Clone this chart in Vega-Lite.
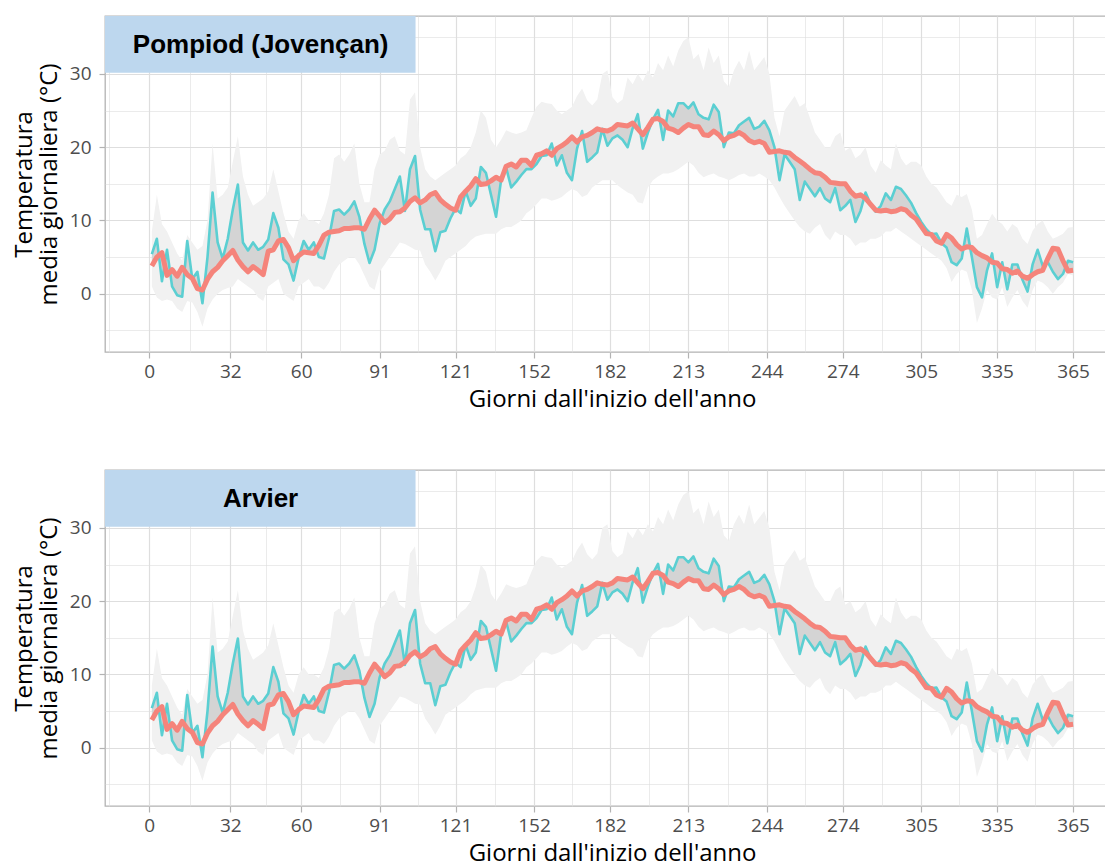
{
"$schema": "https://vega.github.io/schema/vega-lite/v6.json",
"background": "white",
"padding": {"left": 11, "top": 15, "right": 0, "bottom": 0},
"spacing": 57,
"config": {
  "font": "Open Sans",
  "view": {"stroke": "#b3b3b3", "strokeWidth": 1.3},
  "axis": {"domain": false, "grid": true, "gridColor": "#dedede", "tickColor": "#b3b3b3", "tickWidth": 1.2, "tickSize": 6, "labelFont": "Open Sans", "labelFontSize": 19, "labelColor": "#4d4d4d", "titleFont": "Open Sans", "titleFontSize": 24, "titleFontWeight": "normal", "titleColor": "#000000", "labelOverlap": false, "labelFlush": false},
  "axisX": {"labelPadding": 4, "titlePadding": 6},
  "axisY": {"labelPadding": 8, "titlePadding": 8, "titleLineHeight": 25}
},
"datasets": {
"serie": [
{"d":1,"lo":1.0,"hi":8.5,"c":5.4,"r":3.8},
{"d":3,"lo":-0.5,"hi":13.5,"c":7.5,"r":5.0},
{"d":5,"lo":-1.0,"hi":9.5,"c":1.7,"r":5.6},
{"d":7,"lo":-0.8,"hi":8.5,"c":6.0,"r":2.5},
{"d":9,"lo":-1.0,"hi":7.0,"c":1.0,"r":3.3},
{"d":11,"lo":-2.0,"hi":5.5,"c":-0.2,"r":2.4},
{"d":13,"lo":-2.5,"hi":4.5,"c":-0.4,"r":3.6},
{"d":15,"lo":-1.0,"hi":8.0,"c":7.2,"r":2.6},
{"d":17,"lo":-1.2,"hi":7.0,"c":2.0,"r":2.1},
{"d":19,"lo":-2.5,"hi":6.0,"c":3.0,"r":0.7},
{"d":21,"lo":-4.5,"hi":6.5,"c":-1.3,"r":0.5},
{"d":23,"lo":-2.0,"hi":10.0,"c":5.0,"r":2.0},
{"d":25,"lo":-0.8,"hi":20.5,"c":13.8,"r":3.0},
{"d":27,"lo":0.0,"hi":13.0,"c":7.0,"r":3.6},
{"d":29,"lo":0.5,"hi":13.5,"c":4.8,"r":4.5},
{"d":31,"lo":0.8,"hi":14.5,"c":7.5,"r":5.2},
{"d":33,"lo":1.0,"hi":18.0,"c":11.5,"r":5.9},
{"d":35,"lo":2.0,"hi":21.5,"c":14.9,"r":4.6},
{"d":37,"lo":1.5,"hi":16.0,"c":7.0,"r":3.7},
{"d":39,"lo":1.0,"hi":13.5,"c":5.9,"r":3.0},
{"d":41,"lo":0.5,"hi":12.0,"c":7.0,"r":3.7},
{"d":43,"lo":-0.5,"hi":12.5,"c":6.0,"r":3.2},
{"d":45,"lo":-1.0,"hi":13.0,"c":6.4,"r":2.6},
{"d":47,"lo":1.0,"hi":14.0,"c":7.4,"r":5.8},
{"d":49,"lo":1.5,"hi":17.0,"c":11.0,"r":6.0},
{"d":51,"lo":2.0,"hi":14.0,"c":9.0,"r":7.2},
{"d":53,"lo":0.0,"hi":11.0,"c":4.7,"r":7.4},
{"d":55,"lo":-0.5,"hi":8.5,"c":4.0,"r":6.3},
{"d":57,"lo":-1.0,"hi":7.5,"c":1.8,"r":4.5},
{"d":59,"lo":1.0,"hi":10.0,"c":4.9,"r":5.2},
{"d":61,"lo":1.5,"hi":11.0,"c":7.2,"r":5.7},
{"d":63,"lo":2.0,"hi":10.0,"c":6.0,"r":5.6},
{"d":65,"lo":1.0,"hi":10.0,"c":7.0,"r":5.5},
{"d":67,"lo":1.0,"hi":9.5,"c":5.0,"r":6.6},
{"d":69,"lo":0.5,"hi":11.0,"c":4.8,"r":8.0},
{"d":71,"lo":1.5,"hi":13.5,"c":7.6,"r":8.4},
{"d":73,"lo":3.0,"hi":18.5,"c":11.3,"r":8.5},
{"d":75,"lo":4.0,"hi":19.0,"c":11.5,"r":8.6},
{"d":77,"lo":4.5,"hi":18.0,"c":10.8,"r":8.9},
{"d":79,"lo":5.0,"hi":19.0,"c":11.5,"r":8.9},
{"d":81,"lo":5.0,"hi":20.5,"c":12.6,"r":9.0},
{"d":83,"lo":4.0,"hi":15.0,"c":10.5,"r":9.0},
{"d":85,"lo":2.5,"hi":12.5,"c":6.8,"r":8.8},
{"d":87,"lo":1.0,"hi":12.5,"c":4.2,"r":10.2},
{"d":89,"lo":0.5,"hi":17.0,"c":6.0,"r":11.4},
{"d":91,"lo":3.0,"hi":19.0,"c":9.6,"r":10.6},
{"d":93,"lo":4.0,"hi":19.5,"c":11.5,"r":9.7},
{"d":95,"lo":5.0,"hi":21.0,"c":12.6,"r":10.2},
{"d":97,"lo":6.0,"hi":21.5,"c":14.3,"r":11.1},
{"d":99,"lo":7.0,"hi":19.5,"c":16.0,"r":11.2},
{"d":101,"lo":6.8,"hi":19.0,"c":11.3,"r":11.7},
{"d":103,"lo":6.4,"hi":26.5,"c":17.0,"r":12.6},
{"d":105,"lo":6.0,"hi":27.5,"c":18.8,"r":13.1},
{"d":107,"lo":5.9,"hi":20.0,"c":11.5,"r":12.4},
{"d":109,"lo":4.0,"hi":17.0,"c":8.8,"r":12.8},
{"d":111,"lo":3.0,"hi":16.0,"c":8.8,"r":13.5},
{"d":113,"lo":1.8,"hi":15.5,"c":5.8,"r":13.8},
{"d":115,"lo":3.0,"hi":16.0,"c":8.4,"r":12.8},
{"d":117,"lo":4.5,"hi":16.5,"c":8.6,"r":12.2},
{"d":119,"lo":5.0,"hi":17.0,"c":10.3,"r":11.7},
{"d":121,"lo":5.5,"hi":17.5,"c":11.6,"r":11.4},
{"d":123,"lo":6.0,"hi":18.5,"c":11.0,"r":13.2},
{"d":125,"lo":6.5,"hi":19.0,"c":14.0,"r":14.0},
{"d":127,"lo":7.3,"hi":20.0,"c":12.0,"r":14.7},
{"d":129,"lo":7.8,"hi":22.0,"c":13.0,"r":15.7},
{"d":131,"lo":8.0,"hi":25.0,"c":17.3,"r":14.9},
{"d":133,"lo":8.2,"hi":24.0,"c":16.5,"r":15.0},
{"d":135,"lo":8.2,"hi":21.0,"c":13.5,"r":15.4},
{"d":137,"lo":8.2,"hi":20.0,"c":10.5,"r":15.9},
{"d":139,"lo":8.8,"hi":21.0,"c":15.5,"r":15.5},
{"d":141,"lo":9.1,"hi":22.3,"c":17.2,"r":17.4},
{"d":143,"lo":9.1,"hi":22.0,"c":14.5,"r":17.7},
{"d":145,"lo":9.5,"hi":21.8,"c":15.3,"r":17.3},
{"d":147,"lo":10.0,"hi":22.0,"c":16.2,"r":18.2},
{"d":149,"lo":11.0,"hi":22.3,"c":17.0,"r":18.2},
{"d":151,"lo":11.5,"hi":24.0,"c":17.0,"r":17.5},
{"d":153,"lo":12.2,"hi":25.5,"c":17.7,"r":18.9},
{"d":155,"lo":13.0,"hi":26.2,"c":18.8,"r":19.1},
{"d":157,"lo":13.0,"hi":26.0,"c":18.9,"r":19.5},
{"d":159,"lo":12.7,"hi":25.9,"c":20.5,"r":18.9},
{"d":161,"lo":12.9,"hi":25.0,"c":17.5,"r":19.8},
{"d":163,"lo":13.2,"hi":24.5,"c":18.9,"r":20.2},
{"d":165,"lo":13.8,"hi":25.0,"c":16.5,"r":20.7},
{"d":167,"lo":14.3,"hi":25.5,"c":15.5,"r":21.4},
{"d":169,"lo":14.0,"hi":27.0,"c":19.8,"r":20.7},
{"d":171,"lo":13.2,"hi":28.0,"c":22.2,"r":21.4},
{"d":173,"lo":13.5,"hi":26.4,"c":18.0,"r":21.6},
{"d":175,"lo":14.5,"hi":25.7,"c":18.6,"r":22.0},
{"d":177,"lo":15.0,"hi":26.5,"c":19.3,"r":22.5},
{"d":179,"lo":15.5,"hi":30.0,"c":22.5,"r":22.3},
{"d":181,"lo":15.5,"hi":30.5,"c":20.2,"r":22.2},
{"d":183,"lo":15.5,"hi":26.8,"c":21.2,"r":22.5},
{"d":185,"lo":14.8,"hi":26.0,"c":21.6,"r":23.1},
{"d":187,"lo":14.3,"hi":26.5,"c":21.0,"r":23.0},
{"d":189,"lo":13.8,"hi":29.5,"c":20.0,"r":22.9},
{"d":191,"lo":13.5,"hi":28.6,"c":22.6,"r":23.3},
{"d":193,"lo":12.5,"hi":30.0,"c":24.5,"r":22.5},
{"d":195,"lo":12.3,"hi":29.0,"c":19.8,"r":21.7},
{"d":197,"lo":14.5,"hi":30.5,"c":22.0,"r":22.7},
{"d":199,"lo":15.5,"hi":29.5,"c":23.8,"r":23.8},
{"d":201,"lo":16.0,"hi":31.5,"c":25.1,"r":23.9},
{"d":203,"lo":16.4,"hi":30.5,"c":21.0,"r":23.5},
{"d":205,"lo":16.4,"hi":32.5,"c":25.0,"r":22.6},
{"d":207,"lo":16.6,"hi":31.0,"c":24.2,"r":22.4},
{"d":209,"lo":17.0,"hi":33.2,"c":26.0,"r":22.0},
{"d":211,"lo":17.5,"hi":34.5,"c":26.0,"r":22.6},
{"d":213,"lo":18.0,"hi":35.0,"c":25.3,"r":23.1},
{"d":215,"lo":17.5,"hi":32.0,"c":26.1,"r":22.8},
{"d":217,"lo":16.5,"hi":32.7,"c":24.5,"r":22.8},
{"d":219,"lo":15.9,"hi":30.5,"c":24.0,"r":21.7},
{"d":221,"lo":16.2,"hi":33.6,"c":23.8,"r":21.6},
{"d":223,"lo":16.4,"hi":31.5,"c":25.8,"r":22.2},
{"d":225,"lo":16.0,"hi":32.5,"c":24.8,"r":21.7},
{"d":227,"lo":15.8,"hi":29.0,"c":20.0,"r":20.9},
{"d":229,"lo":15.5,"hi":28.2,"c":22.0,"r":21.4},
{"d":231,"lo":15.8,"hi":30.5,"c":21.9,"r":21.6},
{"d":233,"lo":16.2,"hi":31.8,"c":23.0,"r":22.0},
{"d":235,"lo":16.4,"hi":30.5,"c":23.5,"r":21.6},
{"d":237,"lo":16.0,"hi":33.2,"c":24.0,"r":20.9},
{"d":239,"lo":16.0,"hi":30.5,"c":22.5,"r":20.6},
{"d":241,"lo":16.4,"hi":31.4,"c":22.8,"r":20.8},
{"d":243,"lo":16.0,"hi":32.3,"c":23.6,"r":20.5},
{"d":245,"lo":15.5,"hi":30.0,"c":22.3,"r":19.3},
{"d":247,"lo":14.5,"hi":24.0,"c":20.0,"r":19.4},
{"d":249,"lo":13.2,"hi":21.5,"c":15.5,"r":19.5},
{"d":251,"lo":12.0,"hi":25.0,"c":19.0,"r":19.3},
{"d":253,"lo":11.0,"hi":26.0,"c":18.0,"r":19.2},
{"d":255,"lo":10.0,"hi":27.0,"c":17.0,"r":18.6},
{"d":257,"lo":9.1,"hi":25.5,"c":12.8,"r":18.1},
{"d":259,"lo":8.5,"hi":26.0,"c":15.3,"r":17.6},
{"d":261,"lo":8.2,"hi":24.0,"c":14.3,"r":17.0},
{"d":263,"lo":9.0,"hi":22.0,"c":13.3,"r":16.5},
{"d":265,"lo":9.5,"hi":21.0,"c":14.4,"r":16.4},
{"d":267,"lo":8.0,"hi":20.0,"c":13.0,"r":15.9},
{"d":269,"lo":7.3,"hi":20.0,"c":12.5,"r":15.2},
{"d":271,"lo":8.5,"hi":21.5,"c":14.4,"r":15.1},
{"d":273,"lo":8.0,"hi":22.0,"c":11.4,"r":15.0},
{"d":275,"lo":8.0,"hi":19.5,"c":12.0,"r":15.0},
{"d":277,"lo":7.5,"hi":20.0,"c":12.8,"r":14.0},
{"d":279,"lo":6.5,"hi":18.5,"c":9.8,"r":13.3},
{"d":281,"lo":7.0,"hi":19.0,"c":11.3,"r":13.5},
{"d":283,"lo":7.0,"hi":20.0,"c":13.8,"r":13.0},
{"d":285,"lo":7.5,"hi":17.5,"c":12.2,"r":12.2},
{"d":287,"lo":7.5,"hi":16.5,"c":11.2,"r":11.4},
{"d":289,"lo":7.8,"hi":18.2,"c":12.0,"r":11.3},
{"d":291,"lo":8.5,"hi":17.5,"c":13.7,"r":11.4},
{"d":293,"lo":8.5,"hi":17.0,"c":12.8,"r":11.2},
{"d":295,"lo":9.0,"hi":20.5,"c":14.6,"r":11.3},
{"d":297,"lo":8.5,"hi":18.5,"c":14.3,"r":11.6},
{"d":299,"lo":8.0,"hi":17.5,"c":13.4,"r":11.4},
{"d":301,"lo":7.5,"hi":18.0,"c":12.4,"r":10.7},
{"d":303,"lo":7.0,"hi":18.0,"c":11.0,"r":10.2},
{"d":305,"lo":6.5,"hi":17.5,"c":9.8,"r":9.2},
{"d":307,"lo":6.0,"hi":16.0,"c":8.8,"r":8.2},
{"d":309,"lo":5.5,"hi":15.0,"c":8.1,"r":8.1},
{"d":311,"lo":5.0,"hi":14.5,"c":8.2,"r":7.2},
{"d":313,"lo":4.5,"hi":13.5,"c":6.9,"r":6.9},
{"d":315,"lo":3.5,"hi":12.5,"c":6.3,"r":8.1},
{"d":317,"lo":1.6,"hi":12.0,"c":4.3,"r":7.6},
{"d":319,"lo":2.7,"hi":13.5,"c":3.9,"r":6.7},
{"d":321,"lo":3.3,"hi":13.2,"c":4.8,"r":6.1},
{"d":323,"lo":3.0,"hi":13.6,"c":8.9,"r":6.4},
{"d":325,"lo":0.5,"hi":11.5,"c":5.0,"r":6.3},
{"d":327,"lo":-4.0,"hi":7.5,"c":0.9,"r":5.6},
{"d":329,"lo":-2.0,"hi":8.0,"c":-0.5,"r":5.2},
{"d":331,"lo":0.5,"hi":9.5,"c":3.2,"r":4.9},
{"d":333,"lo":-0.5,"hi":10.9,"c":5.5,"r":4.3},
{"d":335,"lo":-0.8,"hi":10.0,"c":0.9,"r":4.2},
{"d":337,"lo":0.9,"hi":9.5,"c":4.3,"r":3.4},
{"d":339,"lo":-1.8,"hi":8.5,"c":0.6,"r":3.3},
{"d":341,"lo":-0.5,"hi":9.5,"c":4.0,"r":2.8},
{"d":343,"lo":0.5,"hi":9.0,"c":4.0,"r":3.1},
{"d":345,"lo":-1.0,"hi":7.5,"c":1.9,"r":2.4},
{"d":347,"lo":-1.9,"hi":6.8,"c":0.3,"r":2.1},
{"d":349,"lo":0.5,"hi":8.6,"c":4.0,"r":2.6},
{"d":351,"lo":1.8,"hi":9.5,"c":6.0,"r":3.0},
{"d":353,"lo":1.5,"hi":10.0,"c":3.8,"r":3.2},
{"d":355,"lo":0.9,"hi":8.5,"c":4.3,"r":4.8},
{"d":357,"lo":0.0,"hi":7.5,"c":3.0,"r":6.2},
{"d":359,"lo":0.9,"hi":7.8,"c":2.0,"r":6.1},
{"d":361,"lo":1.5,"hi":8.2,"c":2.7,"r":4.5},
{"d":363,"lo":2.7,"hi":9.0,"c":4.5,"r":3.1},
{"d":365,"lo":2.5,"hi":9.1,"c":4.3,"r":3.2}
]
},
"vconcat": [
{
  "width": 1001, "height": 336,
  "layer": [
    {"data": {"name": "serie"}, "mark": {"type": "area", "color": "#f1f1f1", "clip": true},
     "encoding": {
       "x": {"field": "d", "type": "quantitative", "scale": {"domain": [-17.5, 378], "nice": false, "zero": false},
             "axis": {"values": [-16,0,16,32,46,60,75.5,91,106,121,136.5,152,167,182,197.5,213,228.5,244,259,274,289.5,305,320,335,350,365],
                      "labelExpr": "indexof([0,32,60,91,121,152,182,213,244,274,305,335,365], datum.value) >= 0 ? '' + datum.value : ''",
                      "tickOpacity": {"condition": {"test": "indexof([0,32,60,91,121,152,182,213,244,274,305,335,365], datum.value) >= 0", "value": 1}, "value": 0},
                      "gridWidth": {"condition": {"test": "indexof([0,32,60,91,121,152,182,213,244,274,305,335,365], datum.value) >= 0", "value": 1.2}, "value": 0.6},
                      "title": "Giorni dall'inizio dell'anno", "titleX": 507}},
       "y": {"field": "lo", "type": "quantitative", "scale": {"domain": [-7.95, 37.9], "nice": false, "zero": false},
             "axis": {"values": [-5,0,5,10,15,20,25,30,35],
                      "labelExpr": "datum.value % 10 === 0 ? '' + datum.value : ''",
                      "tickOpacity": {"condition": {"test": "datum.value % 10 === 0", "value": 1}, "value": 0},
                      "gridWidth": {"condition": {"test": "datum.value % 10 === 0", "value": 1.2}, "value": 0.6},
                      "title": ["Temperatura", "media giornaliera (°C)"]}},
       "y2": {"field": "hi"}
     }},
    {"data": {"name": "serie"}, "mark": {"type": "area", "color": "#d4d4d4", "clip": true},
     "encoding": {"x": {"field": "d", "type": "quantitative"}, "y": {"field": "c", "type": "quantitative"}, "y2": {"field": "r"}}},
    {"data": {"name": "serie"}, "mark": {"type": "line", "color": "#5bcfd2", "strokeWidth": 2.6, "strokeJoin": "round", "clip": true},
     "encoding": {"x": {"field": "d", "type": "quantitative"}, "y": {"field": "c", "type": "quantitative"}}},
    {"data": {"name": "serie"}, "mark": {"type": "line", "color": "#f5847b", "strokeWidth": 5, "strokeJoin": "round", "clip": true},
     "encoding": {"x": {"field": "d", "type": "quantitative"}, "y": {"field": "r", "type": "quantitative"}}},
    {"data": {"values": [{"stazione": "Pompiod (Jovençan)"}]}, "mark": {"type": "rect", "color": "#bdd7ee", "clip": true},
     "encoding": {"x": {"datum": -17.5, "type": "quantitative"}, "x2": {"datum": 105.2}, "y": {"datum": 30.15, "type": "quantitative"}, "y2": {"datum": 37.9}}},
    {"data": {"values": [{"stazione": "Pompiod (Jovençan)"}]}, "mark": {"type": "text", "font": "Liberation Sans", "fontWeight": "bold", "fontSize": 26, "color": "#000000", "align": "center", "baseline": "middle"},
     "encoding": {"x": {"datum": 44, "type": "quantitative"}, "y": {"datum": 34.0, "type": "quantitative"}, "text": {"field": "stazione", "type": "nominal"}}}
  ]
},
{
  "width": 1001, "height": 336,
  "layer": [
    {"data": {"name": "serie"}, "mark": {"type": "area", "color": "#f1f1f1", "clip": true},
     "encoding": {
       "x": {"field": "d", "type": "quantitative", "scale": {"domain": [-17.5, 378], "nice": false, "zero": false},
             "axis": {"values": [-16,0,16,32,46,60,75.5,91,106,121,136.5,152,167,182,197.5,213,228.5,244,259,274,289.5,305,320,335,350,365],
                      "labelExpr": "indexof([0,32,60,91,121,152,182,213,244,274,305,335,365], datum.value) >= 0 ? '' + datum.value : ''",
                      "tickOpacity": {"condition": {"test": "indexof([0,32,60,91,121,152,182,213,244,274,305,335,365], datum.value) >= 0", "value": 1}, "value": 0},
                      "gridWidth": {"condition": {"test": "indexof([0,32,60,91,121,152,182,213,244,274,305,335,365], datum.value) >= 0", "value": 1.2}, "value": 0.6},
                      "title": "Giorni dall'inizio dell'anno", "titleX": 507}},
       "y": {"field": "lo", "type": "quantitative", "scale": {"domain": [-7.95, 37.9], "nice": false, "zero": false},
             "axis": {"values": [-5,0,5,10,15,20,25,30,35],
                      "labelExpr": "datum.value % 10 === 0 ? '' + datum.value : ''",
                      "tickOpacity": {"condition": {"test": "datum.value % 10 === 0", "value": 1}, "value": 0},
                      "gridWidth": {"condition": {"test": "datum.value % 10 === 0", "value": 1.2}, "value": 0.6},
                      "title": ["Temperatura", "media giornaliera (°C)"]}},
       "y2": {"field": "hi"}
     }},
    {"data": {"name": "serie"}, "mark": {"type": "area", "color": "#d4d4d4", "clip": true},
     "encoding": {"x": {"field": "d", "type": "quantitative"}, "y": {"field": "c", "type": "quantitative"}, "y2": {"field": "r"}}},
    {"data": {"name": "serie"}, "mark": {"type": "line", "color": "#5bcfd2", "strokeWidth": 2.6, "strokeJoin": "round", "clip": true},
     "encoding": {"x": {"field": "d", "type": "quantitative"}, "y": {"field": "c", "type": "quantitative"}}},
    {"data": {"name": "serie"}, "mark": {"type": "line", "color": "#f5847b", "strokeWidth": 5, "strokeJoin": "round", "clip": true},
     "encoding": {"x": {"field": "d", "type": "quantitative"}, "y": {"field": "r", "type": "quantitative"}}},
    {"data": {"values": [{"stazione": "Arvier"}]}, "mark": {"type": "rect", "color": "#bdd7ee", "clip": true},
     "encoding": {"x": {"datum": -17.5, "type": "quantitative"}, "x2": {"datum": 105.2}, "y": {"datum": 30.15, "type": "quantitative"}, "y2": {"datum": 37.9}}},
    {"data": {"values": [{"stazione": "Arvier"}]}, "mark": {"type": "text", "font": "Liberation Sans", "fontWeight": "bold", "fontSize": 26, "color": "#000000", "align": "center", "baseline": "middle"},
     "encoding": {"x": {"datum": 44, "type": "quantitative"}, "y": {"datum": 34.0, "type": "quantitative"}, "text": {"field": "stazione", "type": "nominal"}}}
  ]
}
]
}
